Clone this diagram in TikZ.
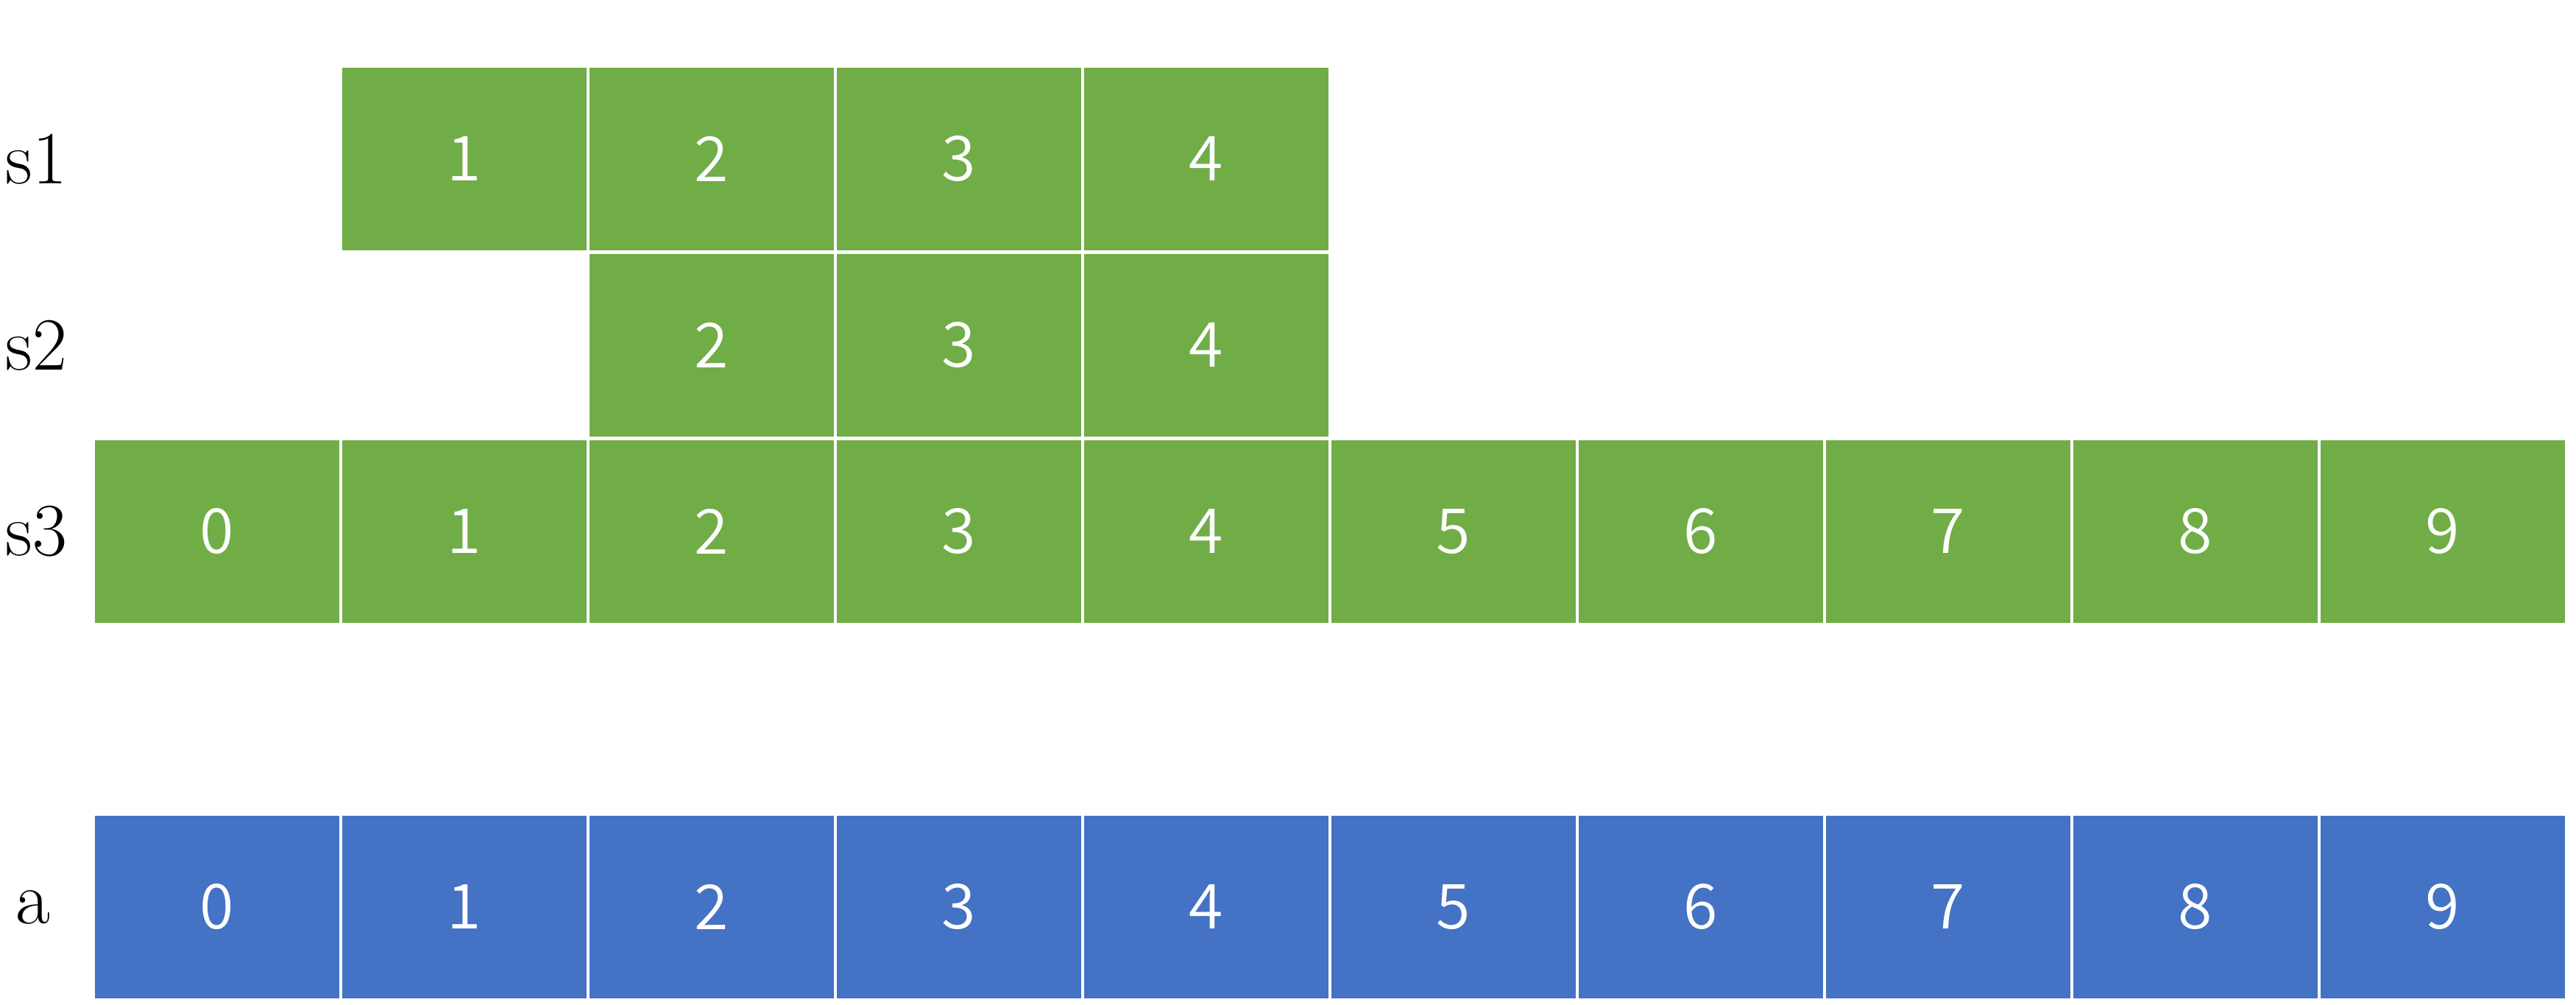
\documentclass[tikz,border=0pt]{standalone}
\usepackage{fontspec}
\newfontfamily\cellfont{Noto Sans CJK JP}[UprightFont={* DemiLight}]
\definecolor{cellgreen}{HTML}{70AD47}
\definecolor{cellblue}{HTML}{4472C4}
\tikzset{
	cell/.style={draw=white, line width=.45mm, minimum width=3.36cm, minimum height=2.53cm, inner sep=0pt, text=white, font=\cellfont\fontsize{24}{26}\selectfont},
	rowname/.style={anchor=east, inner sep=0pt, font=\fontsize{29}{31}\selectfont}
}
\begin{document}
\begin{tikzpicture}
		\useasboundingbox (0,0) rectangle (35,13.65);
		% row names
		\node[rowname] (n1) at (0.92,11.49) {s1};
		\node[rowname] (n2) at (0.92,8.96) {s2};
		\node[rowname] (n3) at (0.92,6.43) {s3};
		\node[rowname] (na) at (0.69,1.33) {a};
		%
		\foreach \i in {1,...,4} \node[cell, fill=cellgreen] (s1-\i) at ({2.95+3.36*\i},11.49) {\i};
		\foreach \i in {2,...,4} \node[cell, fill=cellgreen] (s2-\i) at ({2.95+3.36*\i},8.96) {\i};
		\foreach \i in {0,...,9} \node[cell, fill=cellgreen] (s3-\i) at ({2.95+3.36*\i},6.43) {\i};
		\foreach \i in {0,...,9} \node[cell, fill=cellblue] (a-\i) at ({2.95+3.36*\i},1.33) {\i};
	\end{tikzpicture}
\end{document}
